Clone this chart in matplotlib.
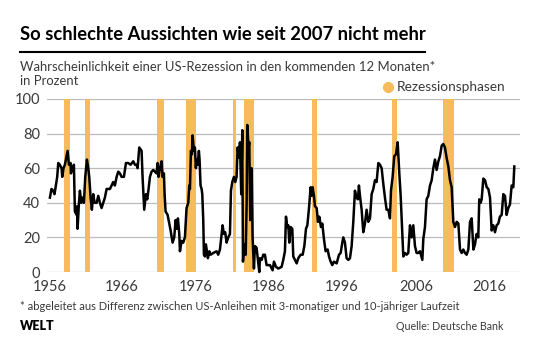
import matplotlib
matplotlib.use('Agg')
from matplotlib import pyplot as plt
from matplotlib.lines import Line2D

# Wahrscheinlichkeit einer US-Rezession, Jahr / Prozent
years = [
    1955.69, 1955.9, 1956.13, 1956.3, 1956.66, 1956.8, 1957.0, 1957.24, 1957.33, 1957.5,
    1957.68, 1958.04, 1958.22, 1958.44, 1958.48, 1958.7, 1958.88, 1959.01, 1959.24, 1959.3,
    1959.37, 1959.55, 1959.68, 1959.86, 1960.03, 1960.21, 1960.39, 1960.61, 1960.79, 1960.92,
    1961.1, 1961.27, 1961.45, 1961.63, 1961.9, 1962.12, 1962.34, 1962.56, 1962.78, 1963.0,
    1963.23, 1963.67, 1964.11, 1964.33, 1964.56, 1964.78, 1965.0, 1965.22, 1965.53, 1965.8,
    1966.11, 1966.42, 1966.77, 1967.0, 1967.21, 1967.35, 1967.57, 1967.88, 1968.01, 1968.23,
    1968.46, 1968.63, 1968.81, 1968.99, 1969.21, 1969.43, 1969.65, 1969.87, 1970.01, 1970.14,
    1970.32, 1970.54, 1970.67, 1970.85, 1970.94, 1971.07, 1971.34, 1971.56, 1971.74, 1972.0,
    1972.22, 1972.4, 1972.58, 1972.71, 1972.89, 1972.98, 1973.2, 1973.42, 1973.64, 1973.86,
    1974.09, 1974.22, 1974.31, 1974.44, 1974.57, 1974.66, 1974.84, 1974.97, 1975.1, 1975.19,
    1975.33, 1975.5, 1975.59, 1975.72, 1975.86, 1975.95, 1976.08, 1976.17, 1976.3, 1976.43,
    1976.7, 1976.88, 1977.06, 1977.41, 1977.85, 1978.07, 1978.3, 1978.52, 1978.65, 1978.83,
    1979.0, 1979.18, 1979.4, 1979.63, 1979.76, 1979.94, 1980.16, 1980.34, 1980.51, 1980.65,
    1980.82, 1980.96, 1981.04, 1981.13, 1981.27, 1981.36, 1981.54, 1981.72, 1981.85, 1981.93,
    1982.11, 1982.2, 1982.33, 1982.42, 1982.51, 1982.64, 1982.82, 1982.95, 1983.17, 1983.4,
    1983.53, 1983.62, 1983.84, 1984.06, 1984.28, 1984.5, 1984.95, 1985.3, 1985.48, 1985.75,
    1986.06, 1986.5, 1986.72, 1986.94, 1987.08, 1987.25, 1987.39, 1987.52, 1987.7, 1987.92,
    1988.05, 1988.27, 1988.5, 1988.72, 1989.03, 1989.3, 1989.52, 1989.74, 1989.92, 1990.14,
    1990.36, 1990.49, 1990.62, 1990.8, 1990.93, 1991.16, 1991.33, 1991.51, 1991.73, 1991.91,
    1992.13, 1992.35, 1992.62, 1992.8, 1993.02, 1993.24, 1993.46, 1993.82, 1994.13, 1994.35,
    1994.57, 1994.7, 1994.92, 1995.14, 1995.37, 1995.59, 1995.81, 1996.03, 1996.25, 1996.47,
    1996.65, 1996.78, 1996.92, 1997.14, 1997.36, 1997.58, 1997.8, 1998.03, 1998.25, 1998.47,
    1998.69, 1998.91, 1999.13, 1999.36, 1999.58, 1999.8, 2000.02, 2000.24, 2000.46, 2000.69,
    2000.91, 2001.04, 2001.26, 2001.48, 2001.71, 2001.93, 2002.15, 2002.33, 2002.46, 2002.68,
    2002.9, 2003.12, 2003.34, 2003.57, 2003.79, 2004.01, 2004.23, 2004.45, 2004.67, 2004.9,
    2005.21, 2005.34, 2005.56, 2005.78, 2006.0, 2006.23, 2006.45, 2006.67, 2006.89, 2007.11,
    2007.34, 2007.56, 2007.78, 2008.0, 2008.22, 2008.44, 2008.67, 2008.89, 2009.11, 2009.33,
    2009.55, 2009.78, 2010.0, 2010.22, 2010.44, 2010.66, 2010.88, 2011.1, 2011.33, 2011.55,
    2011.77, 2012.0, 2012.21, 2012.43, 2012.65, 2012.78, 2012.96, 2013.1, 2013.32, 2013.55,
    2013.77, 2013.99, 2014.21, 2014.43, 2014.65, 2014.87, 2015.09, 2015.31, 2015.53, 2015.76,
    2015.98, 2016.2, 2016.42, 2016.64, 2016.86, 2017.09, 2017.31, 2017.44,
]
values = [
    43, 48, 47, 45, 55, 63, 62, 60, 55, 60,
    62, 70, 62, 63, 57, 60, 62, 35, 33, 38,
    25, 40, 47, 40, 43, 40, 55, 65, 60, 55,
    43, 36, 45, 40, 40, 44, 40, 37, 40, 43,
    48, 48, 52, 50, 55, 58, 57, 55, 55, 63,
    63, 62, 64, 62, 62, 60, 72, 70, 55, 36,
    45, 42, 48, 55, 58, 59, 58, 57, 63, 55,
    60, 64, 55, 57, 45, 35, 33, 28, 24, 17,
    20, 30, 25, 31, 22, 12, 18, 17, 20, 37,
    40, 50, 48, 70, 68, 79, 70, 72, 60, 65,
    62, 70, 65, 50, 48, 45, 30, 10, 9, 16,
    8, 12, 10, 11, 12, 10, 13, 22, 27, 22,
    23, 17, 20, 22, 47, 52, 55, 52, 55, 72,
    66, 75, 60, 45, 82, 6, 16, 10, 40, 85,
    72, 75, 30, 55, 60, 20, 2, 15, 14, 5,
    0, 8, 7, 10, 10, 4, 4, 1, 6, 3,
    2, 3, 7, 12, 32, 26, 27, 17, 26, 25,
    9, 7, 5, 8, 10, 10, 15, 25, 27, 37,
    49, 44, 49, 44, 38, 37, 29, 32, 26, 28,
    19, 12, 13, 9, 6, 4, 6, 5, 10, 11,
    17, 20, 17, 8, 7, 8, 15, 29, 47, 43,
    42, 50, 44, 36, 23, 28, 36, 29, 31, 45,
    48, 53, 52, 63, 62, 60, 51, 43, 36, 36,
    31, 47, 55, 67, 68, 75, 57, 44, 31, 9,
    11, 10, 11, 27, 20, 27, 15, 11, 11, 12,
    7, 19, 26, 42, 44, 50, 53, 60, 65, 59,
    64, 67, 73, 74, 72, 66, 61, 53, 49, 29,
    26, 29, 28, 13, 11, 13, 11, 10, 13, 29,
    31, 13, 16, 22, 20, 42, 40, 42, 54, 53,
    49, 48, 43, 24, 27, 23, 27, 28, 32, 33,
    45, 44, 33, 37, 39, 50, 49, 61,
]

# Rezessionsphasen (Beginn, Ende)
rec_start = [1957.58, 1960.29, 1969.92, 1973.83, 1980.0, 1981.5, 1990.5, 2001.17, 2007.92]
rec_end = [1958.33, 1961.08, 1970.83, 1975.17, 1980.5, 1982.83, 1991.17, 2001.83, 2009.42]

tick_pos = [1955.69, 1965.27, 1975.1, 1984.81, 1994.52, 2004.36, 2014.07]
tick_labels = ['1956', '1966', '1976', '1986', '1996', '2006', '2016']

orange = '#F6BC5C'
grey_text = '#3a3a3a'
font = ['Lato', 'DejaVu Sans']

plt.rcParams['font.family'] = font

fig = plt.figure(figsize=(5.4, 3.6), dpi=100)
ax = fig.add_axes([0.087, 0.2444, 0.876, 0.4806])

for s, e in zip(rec_start, rec_end):
    ax.axvspan(s, e, color=orange, lw=0, zorder=1)

ax.plot(years, values, color='black', lw=1.8, zorder=3, clip_on=False)

ax.set_xlim(1955.3, 2018.2)
ax.set_ylim(0, 100)
ax.set_yticks([0, 20, 40, 60, 80, 100])
ax.yaxis.grid(True, color='#BBBBBB', lw=0.9, zorder=0)
ax.set_axisbelow(True)
ax.set_xticks(tick_pos)
ax.set_xticklabels(tick_labels)
ax.tick_params(length=0, labelsize=10.5, colors=grey_text)
ax.tick_params(axis='x', pad=6)
ax.tick_params(axis='y', pad=5)
for sp in ax.spines.values():
    sp.set_visible(False)

fig.text(20 / 540, 1 - 35 / 360, 'So schlechte Aussichten wie seit 2007 nicht mehr',
         fontsize=13.2, fontweight='bold', color='black', va='center', ha='left')
fig.add_artist(Line2D([20 / 540, 425 / 540], [1 - 51.5 / 360] * 2, color='black', lw=1.5))
fig.text(20 / 540, 1 - 67 / 360, 'Wahrscheinlichkeit einer US-Rezession in den kommenden 12 Monaten*',
         fontsize=9.4, color=grey_text, va='center', ha='left')
fig.text(20 / 540, 1 - 81 / 360, 'in Prozent',
         fontsize=9.4, color=grey_text, va='center', ha='left')

fig.add_artist(Line2D([388 / 540], [1 - 87 / 360], marker='o', ms=7, color=orange, lw=0))
fig.text(397 / 540, 1 - 87 / 360, 'Rezessionsphasen',
         fontsize=9.8, color=grey_text, va='center', ha='left')

fig.text(20 / 540, 1 - 307 / 360,
         '* abgeleitet aus Differenz zwischen US-Anleihen mit 3-monatiger und 10-jähriger Laufzeit',
         fontsize=8, color=grey_text, va='center', ha='left')
fig.text(20 / 540, 1 - 326 / 360, 'WELT', fontsize=9, fontweight='heavy',
         color='black', va='center', ha='left')
fig.text(503 / 540, 1 - 326 / 360, 'Quelle: Deutsche Bank',
         fontsize=7.7, color=grey_text, va='center', ha='right')

fig.savefig('out.png', dpi=100)
